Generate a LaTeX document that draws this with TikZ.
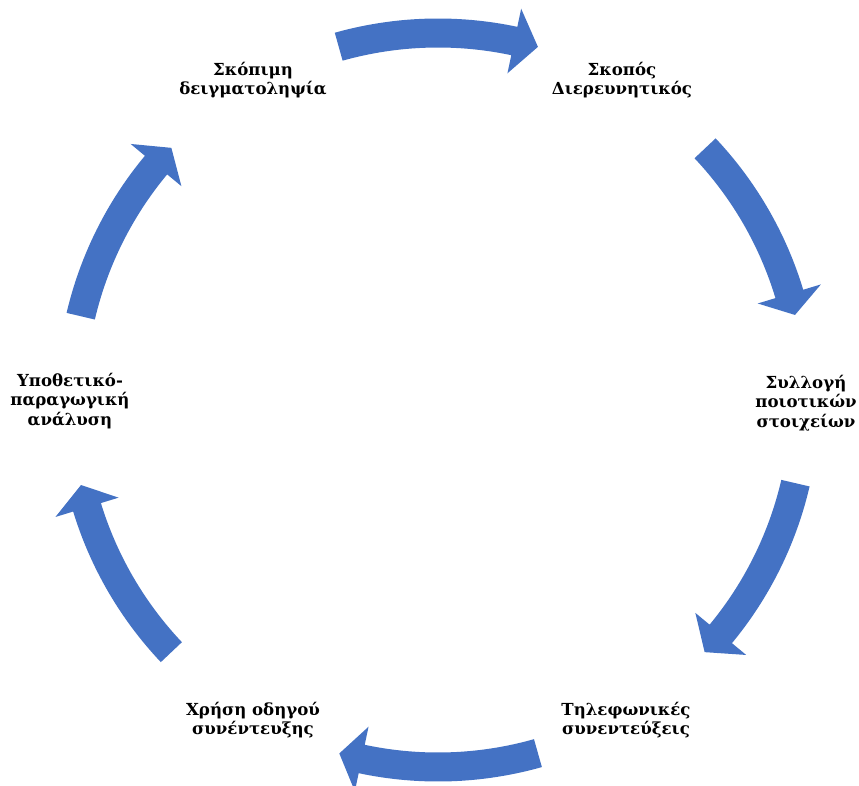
\documentclass[tikz,border=0pt]{standalone}
\usepackage{fontspec}
\setmainfont{DejaVu Serif}
\definecolor{arrowblue}{HTML}{4472C4}
\tikzset{
  lbl/.style={font=\bfseries\fontsize{16.6}{19.3}\selectfont, align=center, inner sep=0pt, text=black},
  blockarrow/.style={fill=arrowblue, draw=none}
}
% #1 tail angle, #2 head base angle, #3 tip angle
\newcommand{\cycarrow}[3]{%
  \fill[blockarrow] (#1:381.5) arc[start angle=#1, end angle=#2, radius=381.5]
    -- (#2:400) -- (#3:367) -- (#2:334) -- (#2:352.5)
    arc[start angle=#2, end angle=#1, radius=352.5] -- cycle;}
\begin{document}
\begin{tikzpicture}[x=1pt,y=1pt]
\useasboundingbox (0,0) rectangle (859,-786);
\fill[white] (0,0) rectangle (859,-786);
% labels
\node[lbl] (n1) at (253,-80) {Σκόπιμη\\δειγματοληψία};
\node[lbl] (n2) at (622,-80) {Σκοπός\\Διερευνητικός};
\node[lbl] (n3) at (806,-403) {Συλλογή\\ποιοτικών\\στοιχείων};
\node[lbl] (n4) at (626,-720) {Τηλεφωνικές\\συνεντεύξεις};
\node[lbl] (n5) at (253,-720) {Χρήση οδηγού\\συνέντευξης};
\node[lbl] (n6) at (70,-401) {Υποθετικό-\\παραγωγική\\ανάλυση};
% circular block arrows
\begin{scope}[shift={(438,-400)}]
\cycarrow{105.7}{78}{74.2}
\cycarrow{43.3}{16.8}{13.4}
\cycarrow{-13.1}{-39.6}{-43.4}
\cycarrow{-74.2}{-102}{-105.6}
\cycarrow{-136.6}{-163}{-166.6}
\cycarrow{166.8}{140.2}{136.6}
\end{scope}
\end{tikzpicture}
\end{document}
